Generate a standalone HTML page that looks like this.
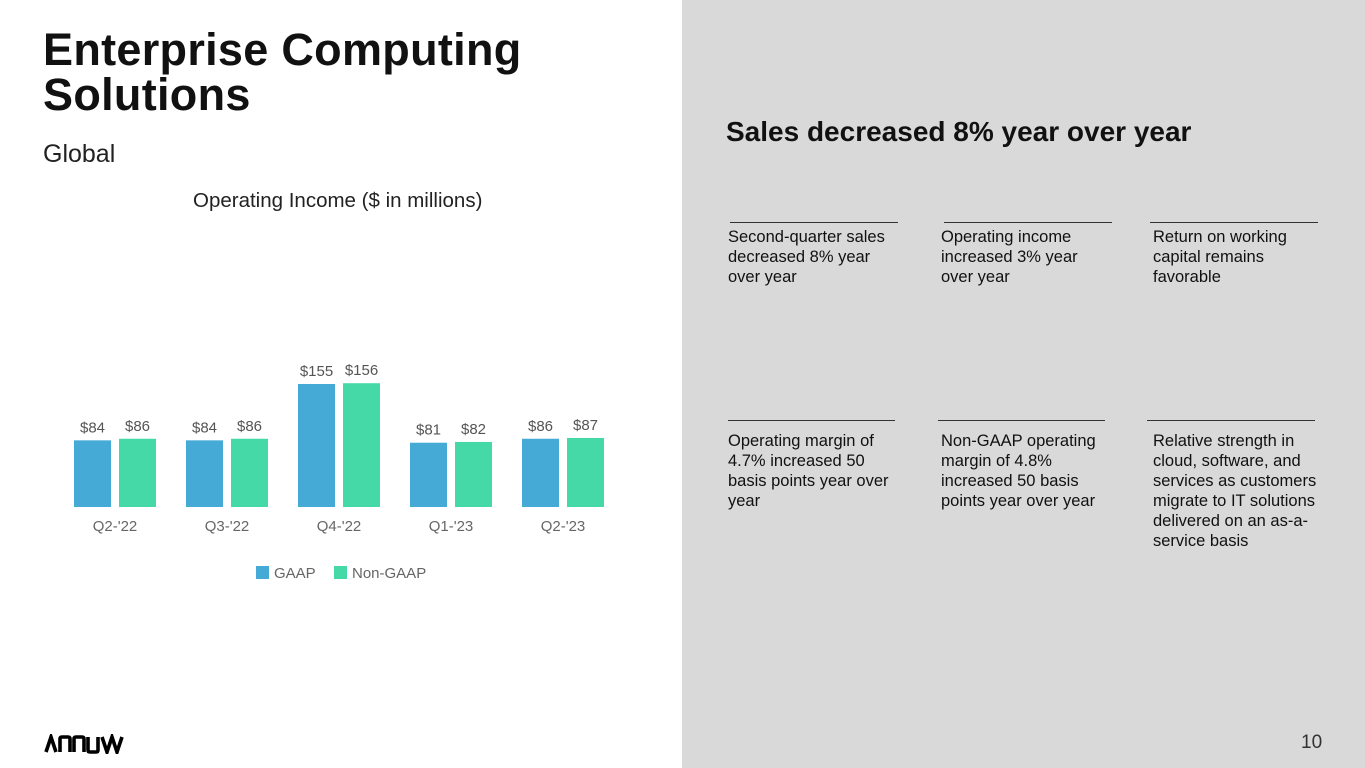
<!DOCTYPE html>
<html><head><meta charset="utf-8"><style>
body{margin:0;width:1365px;height:768px;position:relative;overflow:hidden;background:#fff;font-family:"Liberation Sans",sans-serif;}
.abs{position:absolute;}
#panel{left:682px;top:0;width:683px;height:768px;background:#d9d9d9;}
h1{position:absolute;left:43px;top:27px;margin:0;font-size:45px;line-height:45px;font-weight:bold;color:#111;letter-spacing:0.3px;}
.sub{left:43px;top:140px;font-size:25px;color:#222;}
.note{font-size:16.5px;line-height:20px;color:#111;white-space:nowrap;}
.rule{height:1px;background:#333;}
</style></head><body>
<div id="panel" class="abs"></div>
<h1>Enterprise Computing<br>Solutions</h1>
<div class="abs sub">Global</div>
<div class="abs" style="left:193px;top:189px;font-size:20.5px;color:#222">Operating Income ($ in millions)</div>
<svg class="abs" style="left:0;top:0" width="682" height="620" id="chart"></svg>
<div class="abs" style="left:726px;top:116px;font-size:28px;font-weight:bold;color:#111">Sales decreased 8% year over year</div>

<div class="abs rule" style="left:730px;top:222px;width:168px"></div>
<div class="abs rule" style="left:944px;top:222px;width:168px"></div>
<div class="abs rule" style="left:1150px;top:222px;width:168px"></div>
<div class="abs note" style="left:728px;top:227px">Second-quarter sales<br>decreased 8% year<br>over year</div>
<div class="abs note" style="left:941px;top:227px">Operating income<br>increased 3% year<br>over year</div>
<div class="abs note" style="left:1153px;top:227px">Return on working<br>capital remains<br>favorable</div>

<div class="abs rule" style="left:728px;top:420px;width:167px"></div>
<div class="abs rule" style="left:938px;top:420px;width:167px"></div>
<div class="abs rule" style="left:1147px;top:420px;width:168px"></div>
<div class="abs note" style="left:728px;top:431px">Operating margin of<br>4.7% increased 50<br>basis points year over<br>year</div>
<div class="abs note" style="left:941px;top:431px">Non-GAAP operating<br>margin of 4.8%<br>increased 50 basis<br>points year over year</div>
<div class="abs note" style="left:1153px;top:431px">Relative strength in<br>cloud, software, and<br>services as customers<br>migrate to IT solutions<br>delivered on an as-a-<br>service basis</div>

<svg class="abs" style="left:44px;top:734px" width="86" height="20">
<path d="M2,18 L7,3 L12,18 M16,18 L16,5 Q16,3 18,3 L24,3 Q26,3 26,5 L26,18 M30,18 L30,5 Q30,3 32,3 L38,3 Q40,3 40,5 L40,18 M44,3 L44,16 Q44,18 46,18 L52,18 Q54,18 54,16 L54,3 M58,3 L63,18 L68,3 L73,18 L78,3" fill="none" stroke="#000" stroke-width="3.6"/>
</svg>
<div class="abs" style="left:1301px;top:732px;font-size:19px;color:#333">10</div>

<script>
const categories=["Q2-'22","Q3-'22","Q4-'22","Q1-'23","Q2-'23"];
const gaap=[84,84,155,81,86];
const nonGaap=[86,86,156,82,87];
const svg=document.getElementById('chart');
const NS='http://www.w3.org/2000/svg';
const base=507, scale=123/155;
const y=v=>base-v*scale;
const gx=i=>74+i*112;
function mk(tag,attrs){const e=document.createElementNS(NS,tag);for(const k in attrs)e.setAttribute(k,attrs[k]);svg.appendChild(e);return e;}
categories.forEach((c,i)=>{
  [[gaap[i],'#46aad6',0],[nonGaap[i],'#45d9a8',45]].forEach(([v,col,off],j)=>{
    const r=mk('rect',{x:gx(i)+off,y:y(v),width:37,height:v*scale,fill:col});
    
    
    const t=mk('text',{x:gx(i)+off+18.5,y:y(v)-8,'text-anchor':'middle','font-size':15,fill:'#555','font-family':'Liberation Sans'});
    t.textContent='$'+v;
    
    
  });
  const l=mk('text',{x:gx(i)+41,y:531,'text-anchor':'middle','font-size':15,fill:'#666','font-family':'Liberation Sans'});
  l.textContent=c;
  
  
});
[['GAAP','#46aad6',256],['Non-GAAP','#45d9a8',334]].forEach(([n,col,x])=>{
  const r=mk('rect',{x:x,y:566,width:13,height:13,fill:col});
  
  
  const t=mk('text',{x:x+18,y:578,'font-size':15,fill:'#666','font-family':'Liberation Sans'});
  t.textContent=n;
  
  
});
</script>
</body></html>
